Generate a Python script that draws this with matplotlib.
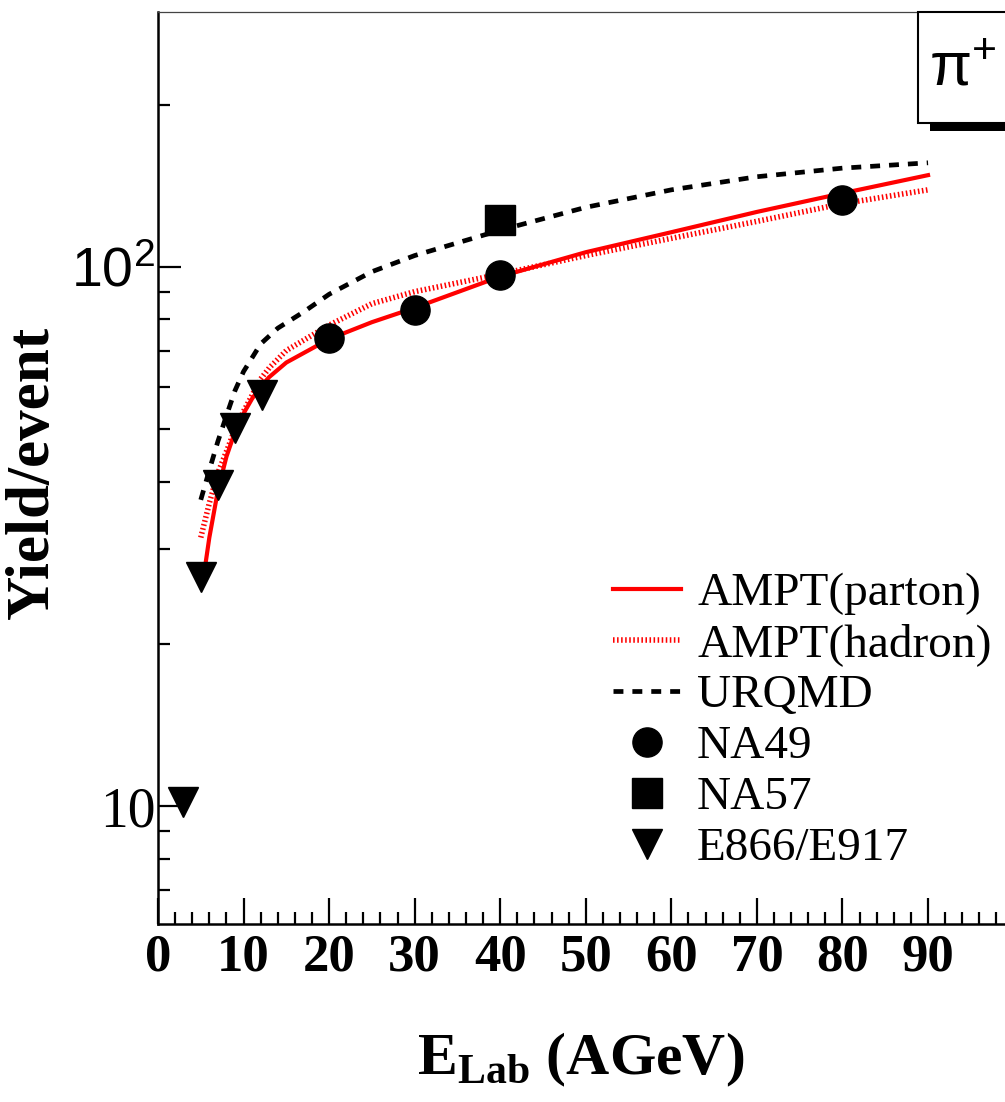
import numpy as np
import matplotlib.pyplot as plt
from matplotlib.patches import Rectangle
from matplotlib.ticker import MultipleLocator, LogLocator, NullFormatter

plt.rcParams['font.family'] = 'Liberation Serif'
plt.rcParams['mathtext.fontset'] = 'custom'
plt.rcParams['mathtext.rm'] = 'Liberation Sans'
plt.rcParams['mathtext.sf'] = 'Liberation Sans'
plt.rcParams['mathtext.it'] = 'Liberation Sans:italic'
plt.rcParams['mathtext.bf'] = 'Liberation Serif:bold'

# model curves (E_lab in AGeV, yield/event)
e_parton = [5.6, 6, 7, 8, 9, 10, 11, 12, 13, 15, 20, 25, 30, 40, 50, 60, 70, 80, 90]
y_parton = [28.5, 31.5, 38.5, 44.5, 49.5, 53.5, 57, 60, 62.5, 66.5, 73.5, 79, 84, 96, 106.5, 116, 126.5, 137, 148]

e_hadron = [5, 6, 7, 8, 9, 10, 12, 13, 15, 20, 25, 30, 40, 50, 60, 70, 80, 90]
y_hadron = [31.5, 36.5, 41.5, 45.5, 50, 54, 62, 65, 70, 78, 85.5, 90, 97, 105, 113, 121.5, 131, 139]

e_urqmd = [5, 6, 7, 8, 9, 10, 12, 14, 17, 20, 25, 30, 40, 50, 60, 70, 80, 90]
y_urqmd = [37, 42, 47.5, 53, 59, 64, 72, 77, 82.5, 89, 98, 105, 117, 129, 139, 147, 152.5, 156]

# data points
e_na49 = [20, 30, 40, 80]
y_na49 = [73.8, 83.2, 96.6, 133]
e_na57 = [40]
y_na57 = [122]
e_e866 = [2.9, 5.0, 7.0, 9.0, 12.2]
y_e866 = [10.2, 26.6, 39.5, 50.2, 57.9]

W, H = 1005, 1102
fig = plt.figure(figsize=(W / 100, H / 100), dpi=100)
ax = fig.add_axes([158 / W, 1 - 924 / H, 855.6 / W, (924 - 12) / H])

ax.plot(e_parton, y_parton, color='red', lw=3.0, label='AMPT(parton)')
ax.plot(e_hadron, y_hadron, color='red', lw=4.0, dashes=(0.28, 0.45), label='AMPT(hadron)')
ax.plot(e_urqmd, y_urqmd, color='black', lw=3.4, dashes=(2.1, 1.9), label='URQMD')
ax.plot(e_na49, y_na49, 'o', color='black', ms=21, label='NA49')
ax.plot(e_na57, y_na57, 's', color='black', ms=21, label='NA57')
ax.plot(e_e866, y_e866, 'v', color='black', ms=21, label='E866/E917')

ax.set_yscale('log')
ax.set_xlim(0, 100)
ax.set_ylim(6.05, 297)

ax.set_xticks(range(0, 100, 10))
ax.set_xticklabels([str(v) for v in range(0, 100, 10)], fontsize=38, fontweight='bold')
ax.xaxis.set_minor_locator(MultipleLocator(2))
ax.set_yticks([10, 100])
ax.set_yticklabels(['10', r'$10^{2}$'], fontsize=40)
ax.yaxis.set_minor_locator(LogLocator(base=10, subs=np.arange(2, 10)))
ax.yaxis.set_minor_formatter(NullFormatter())

ax.tick_params(which='both', direction='in', width=1.6, top=False, right=False)
ax.tick_params(axis='x', which='major', length=19, pad=7)
ax.tick_params(axis='x', which='minor', length=8.5)
ax.tick_params(axis='y', which='major', length=16.5, pad=2)
ax.tick_params(axis='y', which='minor', length=8.5)

for side in ['left', 'bottom']:
    ax.spines[side].set_linewidth(1.8)
ax.spines['top'].set_linewidth(0.9)
ax.spines['top'].set_color('#444444')

fig.text(33 / W, 1 - 472 / H, 'Yield/event', fontsize=44, fontweight='bold',
         rotation=90, ha='center', va='center')
fig.text(581 / W, 1 - 1060 / H, r'$\mathbf{E}_{\mathbf{Lab}}$ (AGeV)', fontsize=43,
         fontweight='bold', ha='center', va='center')

leg = ax.legend(loc='upper left', bbox_to_anchor=(613 / W, 1 - 572 / H),
                bbox_transform=fig.transFigure, frameon=False, fontsize=34,
                handlelength=1.45, handletextpad=0.33, labelspacing=0.17,
                borderpad=0, borderaxespad=0, markerscale=1.0)

# pi+ label box with shadow
fig.add_artist(Rectangle((930 / W, 1 - 131 / H), 0.2, 9 / H, transform=fig.transFigure,
                         facecolor='black', edgecolor='none'))
fig.add_artist(Rectangle((918 / W, 1 - 123 / H), 0.2, 111 / H, transform=fig.transFigure,
                         facecolor='white', edgecolor='black', lw=1.5))
fig.text(963 / W, 1 - 70 / H, r'$\mathrm{\pi}^{+}$', fontsize=44, ha='center', va='center')

fig.savefig('out.png', dpi=100)
